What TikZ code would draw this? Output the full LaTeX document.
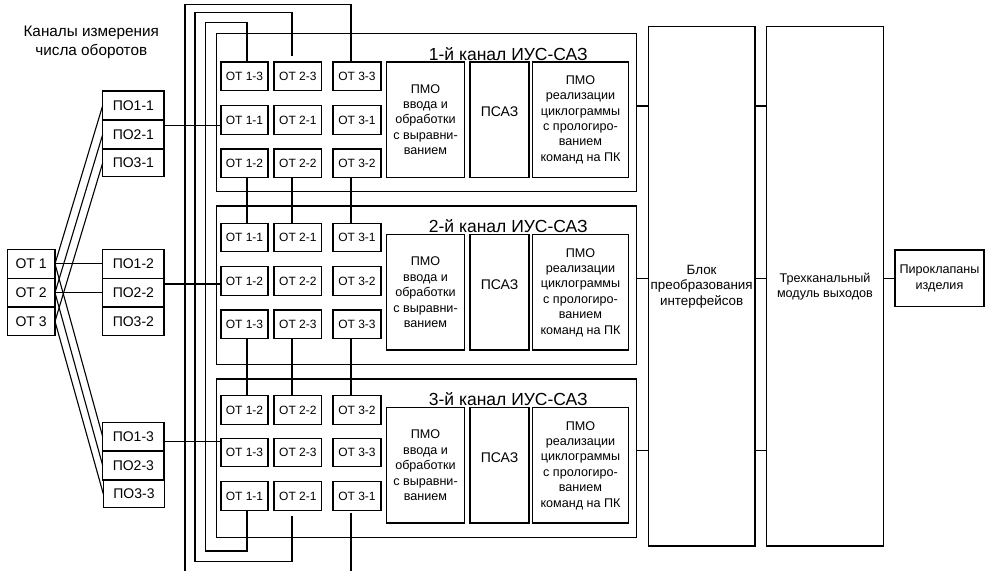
\documentclass[tikz,border=0pt]{standalone}
\usepackage{fontspec}
\setmainfont{Liberation Sans}
\usetikzlibrary{calc}
\tikzset{
  bx/.style={draw, line width=1.1pt, inner sep=0pt, outer sep=0pt, align=center},
  ln/.style={line width=1.1pt},
  otf/.style={font=\fontsize{12}{14}\selectfont},
  bigf/.style={font=\fontsize{14}{16}\selectfont},
  txtf/.style={font=\fontsize{12.6}{15.4}\selectfont},
  ttl/.style={font=\fontsize{17.5}{20}\selectfont},
}
\newcommand{\mkbox}[7][]{%
  \pgfmathsetmacro\bw{#5-#3}\pgfmathsetmacro\bh{#6-#4}%
  \pgfmathsetmacro\cx{(#3+#5)/2}\pgfmathsetmacro\cy{(#4+#6)/2}%
  \node[bx,#1,minimum width=\bw pt,minimum height=\bh pt] (#2) at (\cx,\cy) {#7};}
\begin{document}
\begin{tikzpicture}[x=1pt,y=-1pt]
\useasboundingbox (0,0) rectangle (990,571);
% title
\node[font=\fontsize{15.3}{18.4}\selectfont, align=center] (head) at (91.3,42.5) {Каналы измерения\\числа оборотов};
% left boxes
\mkbox[bigf]{OT1}{7.3}{249.3}{55}{278.3}{ОТ 1}
\mkbox[bigf]{OT2}{7.3}{278.3}{55}{307}{ОТ 2}
\mkbox[bigf]{OT3}{7.3}{307}{55}{335.7}{ОТ 3}
\mkbox[bigf]{PO11}{102.7}{91}{164}{120}{ПО1-1}
\mkbox[bigf]{PO21}{102.7}{120}{164}{149}{ПО2-1}
\mkbox[bigf]{PO31}{102.7}{149}{164}{176.7}{ПО3-1}
\mkbox[bigf]{PO12}{102.7}{249.3}{164}{278.3}{ПО1-2}
\mkbox[bigf]{PO22}{102.7}{278.3}{164}{307}{ПО2-2}
\mkbox[bigf]{PO32}{102.7}{307}{164}{335.7}{ПО3-2}
\mkbox[bigf]{PO13}{102.7}{422.3}{164}{451}{ПО1-3}
\mkbox[bigf]{PO23}{102.7}{451}{164}{480}{ПО2-3}
\mkbox[bigf]{PO33}{103.3}{480}{164.7}{507.7}{ПО3-3}
% crossing lines
\foreach \i in {1,2,3}{
  \draw[ln] (OT\i.east) -- (PO\i1.west);
  \draw[ln] (OT\i.east) -- (PO\i3.west);
}
\draw[ln] (OT1.east) -- (PO12.west);
\draw[ln] (OT2.east) -- (PO22.west);
% channels
\foreach \k/\dy in {1/0,2/172.7,3/345.7}{
  \pgfmathsetmacro\ya{33.3+\dy}\pgfmathsetmacro\yb{191.7+\dy}
  \pgfmathsetmacro\pa{62+\dy}\pgfmathsetmacro\pb{177.3+\dy}
  \pgfmathsetmacro\tb{60+\dy}
  \mkbox{ch\k}{216.7}{\ya}{636.5}{\yb}{}
  \node[ttl, anchor=base] (title\k) at (508.3,\tb) {\k-й канал ИУС-САЗ};
  \mkbox[txtf]{pmoa\k}{386.7}{\pa}{464.3}{\pb}{ПМО\\ввода и\\обработки\\с выравни-\\ванием}
  \mkbox{psaz\k}{470}{\pa}{529}{\pb}{}
  \node[bigf] (psazt\k) at ($(psaz\k.center)+(0,-8)$) {ПСАЗ};
  \mkbox[txtf]{pmor\k}{532.7}{\pa}{628.3}{\pb}{ПМО\\реализации\\циклограммы\\с прологиро-\\ванием\\команд на ПК}
}
% OT boxes in channels
\foreach \k/\ya/\yb/\yc/\sa/\sb/\sc in {1/62/105.7/149/3/1/2, 2/223.3/266.7/310/1/2/3, 3/395.7/438.3/481.7/2/3/1}{
  \foreach \r/\y/\s in {1/\ya/\sa, 2/\yb/\sb, 3/\yc/\sc}{
    \foreach \c/\xa/\xb in {1/221/268, 2/274/321.7, 3/333/381}{
      \pgfmathsetmacro\yy{\y+28.6}
      \mkbox[otf]{k\k r\r c\c}{\xa}{\y}{\xb}{\yy}{ОТ \c-\s}
    }
  }
}
% right blocks
\mkbox[txtf,font=\fontsize{13.4}{15.5}\selectfont]{blok}{648.3}{26.7}{755}{546}{Блок\\преобразования\\интерфейсов}
\mkbox[txtf]{trex}{766.7}{26.7}{883.3}{546}{Трехканальный\\модуль выходов}
\mkbox[txtf]{piro}{895}{250}{984}{306.7}{Пироклапаны\\изделия}
% helper coordinates
\coordinate (X1) at (247,0);
\coordinate (X2) at (292,0);
\coordinate (X3) at (351,0);
\coordinate (T1) at (185,4.7);
\coordinate (B1) at (185,571);
\coordinate (T2) at (195,12.3);
\coordinate (B2) at (195,561.7);
\coordinate (T3) at (205.7,22.3);
\coordinate (B3) at (205.7,551);
\coordinate (Y1) at (0,125.7);
\coordinate (Y2) at (0,284);
\coordinate (Y3) at (0,441.7);
\coordinate (R1) at (0,106);
\coordinate (R2) at (0,278.7);
\coordinate (R3) at (0,450.7);
% PO -> channel
\draw[ln] (PO21.east |- Y1) -- (k1r2c1.west |- Y1);
\draw[ln] (PO22.east |- Y2) -- (k2r2c1.west |- Y2);
\draw[ln] (PO13.east |- Y3) -- (k3r2c1.west |- Y3);
% inter-channel links
\foreach \c in {1,2,3}{
  \draw[ln] (k1r3c\c.south -| X\c) -- (k2r1c\c.north -| X\c);
  \draw[ln] (k2r3c\c.south -| X\c) -- (k3r1c\c.north -| X\c);
}
% loops
\draw[ln] (k1r1c3.north -| X3) |- (T1) -- (B1);
\draw[ln] ($(k3r3c3.south -| X3)+(0,2.3)$) -- (X3 |- B1);
\draw[ln] ($(k1r1c2.north -| X2)+(0,-6)$) |- (T2) -- (B2) -| ($(k3r3c2.south -| X2)+(0,5.7)$);
\draw[ln] (k1r1c1.north -| X1) |- (T3) -- (B3) -| (k3r3c1.south -| X1);
% channel -> blocks
\foreach \k in {1,2,3}{
  \draw[ln] (ch\k.east |- R\k) -- (blok.west |- R\k);
  \draw[ln] (blok.east |- R\k) -- (trex.west |- R\k);
}
\draw[ln] (trex.east |- piro.west) -- (piro.west);
\end{tikzpicture}
\end{document}
